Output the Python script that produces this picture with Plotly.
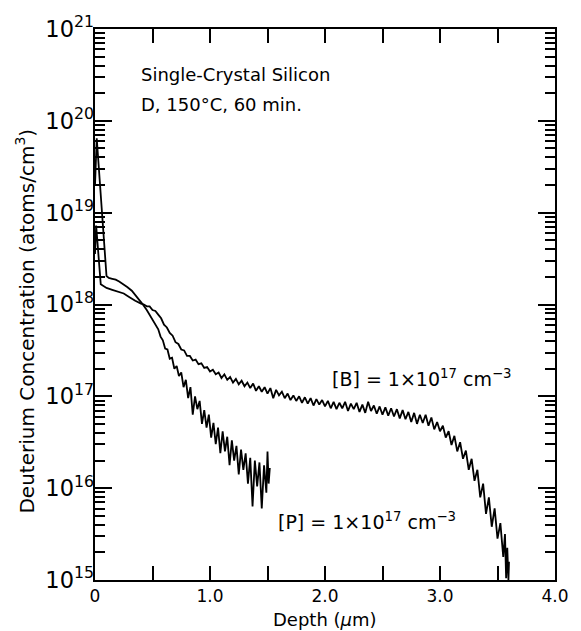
import plotly.graph_objects as go

# ---- data (depth in µm, log10 of concentration) ----
b_depth = [0.00, 0.01, 0.05, 0.10, 0.15, 0.20, 0.25, 0.30, 0.35, 0.40,
           0.425, 0.450, 0.475, 0.500, 0.525, 0.550, 0.575, 0.600, 0.625, 0.650,
           0.675, 0.700, 0.725, 0.750, 0.775, 0.800, 0.825, 0.850, 0.875, 0.900,
           0.925, 0.950, 0.975, 1.000, 1.025, 1.050, 1.075, 1.100, 1.125, 1.150,
           1.175, 1.200, 1.225, 1.250, 1.275, 1.300, 1.325, 1.350, 1.375, 1.400,
           1.425, 1.450, 1.475, 1.500, 1.525, 1.550, 1.575, 1.600, 1.625, 1.650,
           1.675, 1.700, 1.725, 1.750, 1.775, 1.800, 1.825, 1.850, 1.875, 1.900,
           1.925, 1.950, 1.975, 2.000, 2.025, 2.050, 2.075, 2.100, 2.125, 2.150,
           2.175, 2.200, 2.225, 2.250, 2.275, 2.300, 2.325, 2.350, 2.375, 2.400,
           2.425, 2.450, 2.475, 2.500, 2.525, 2.550, 2.575, 2.600, 2.625, 2.650,
           2.675, 2.700, 2.725, 2.750, 2.775, 2.800, 2.825, 2.850, 2.875, 2.900,
           2.925, 2.950, 2.975, 3.000, 3.025, 3.050, 3.075, 3.100, 3.125, 3.150,
           3.175, 3.200, 3.225, 3.250, 3.275, 3.300, 3.325, 3.350, 3.375, 3.400,
           3.425, 3.450, 3.475, 3.500, 3.525, 3.550, 3.565, 3.575, 3.585, 3.595,
           3.600]
b_logc = [18.55, 18.86, 18.22, 18.18, 18.16, 18.14, 18.12, 18.08, 18.04, 18.01,
          18.00, 17.98, 17.98, 17.94, 17.93, 17.89, 17.85, 17.78, 17.75, 17.69,
          17.66, 17.59, 17.57, 17.51, 17.50, 17.44, 17.44, 17.39, 17.40, 17.35,
          17.36, 17.31, 17.32, 17.27, 17.29, 17.24, 17.26, 17.20, 17.24, 17.18,
          17.21, 17.15, 17.19, 17.13, 17.17, 17.11, 17.15, 17.09, 17.14, 17.06,
          17.11, 17.05, 17.10, 17.03, 17.09, 16.98, 17.07, 17.01, 17.05, 16.98,
          17.03, 16.96, 17.01, 16.95, 17.00, 16.93, 16.99, 16.92, 16.98, 16.90,
          16.97, 16.91, 16.96, 16.89, 16.95, 16.87, 16.94, 16.86, 16.93, 16.87,
          16.94, 16.84, 16.92, 16.86, 16.93, 16.83, 16.91, 16.82, 16.94, 16.84,
          16.90, 16.81, 16.89, 16.80, 16.88, 16.79, 16.87, 16.78, 16.86, 16.76,
          16.85, 16.75, 16.83, 16.72, 16.82, 16.70, 16.80, 16.71, 16.80, 16.68,
          16.77, 16.64, 16.72, 16.62, 16.68, 16.55, 16.62, 16.47, 16.57, 16.40,
          16.50, 16.32, 16.41, 16.20, 16.32, 16.08, 16.20, 15.90, 16.05, 15.72,
          15.90, 15.58, 15.78, 15.45, 15.62, 15.25, 15.50, 15.02, 15.35, 15.00,
          15.20]

p_depth = [0.00, 0.015, 0.10, 0.12, 0.15, 0.18, 0.21, 0.25, 0.28, 0.32,
           0.36, 0.41, 0.45, 0.50, 0.53,
           0.55, 0.57, 0.59, 0.61, 0.63, 0.65, 0.67, 0.69, 0.71, 0.73,
           0.75, 0.77, 0.79, 0.81, 0.83, 0.85, 0.87, 0.89, 0.91, 0.93,
           0.95, 0.97, 0.99, 1.01, 1.03, 1.05, 1.07, 1.09, 1.11, 1.13,
           1.15, 1.17, 1.19, 1.21, 1.23, 1.25, 1.27, 1.29, 1.31, 1.33,
           1.35, 1.37, 1.39, 1.41, 1.43, 1.45, 1.47, 1.49, 1.50, 1.51,
           1.52]
p_logc = [19.30, 19.81, 18.31, 18.29, 18.28, 18.27, 18.25, 18.22, 18.19, 18.15,
          18.09, 18.01, 17.94, 17.83, 17.77,
          17.73, 17.65, 17.61, 17.52, 17.51, 17.41, 17.42, 17.30, 17.33, 17.22,
          17.26, 17.10, 17.18, 16.98, 17.10, 16.80, 17.00, 16.86, 16.95, 16.70,
          16.85, 16.66, 16.80, 16.55, 16.71, 16.48, 16.66, 16.38, 16.62, 16.40,
          16.56, 16.25, 16.52, 16.30, 16.46, 16.15, 16.42, 16.20, 16.38, 16.05,
          16.33, 15.80, 16.30, 16.02, 16.28, 15.78, 16.25, 15.95, 16.40, 16.05,
          16.22]

decades = [15, 16, 17, 18, 19, 20]
x_tick_vals = [0, 0.5, 1.0, 1.5, 2.0, 2.5, 3.0, 3.5, 4.0]
x_tick_text = ["0", " ", "1.0", " ", "2.0", " ", "3.0", " ", "4.0"]

FONT = "DejaVu Sans, Arial, sans-serif"

minor_vals = [float(m) * 10.0 ** d for d in decades for m in range(2, 10)]

fig = go.Figure()
fig.add_trace(go.Scatter(x=b_depth, y=[10.0 ** v for v in b_logc], mode="lines",
                         line=dict(color="black", width=1.8), showlegend=False))
fig.add_trace(go.Scatter(x=p_depth, y=[10.0 ** v for v in p_logc], mode="lines",
                         line=dict(color="black", width=1.8), showlegend=False))
# empty trace so the overlaid decade-tick axis is drawn
fig.add_trace(go.Scatter(x=[None], y=[None], yaxis="y2", mode="lines",
                         showlegend=False, hoverinfo="skip"))

fig.update_layout(
    width=581, height=631,
    margin=dict(l=95, r=16, t=21, b=51),
    paper_bgcolor="white", plot_bgcolor="white",
    font=dict(family=FONT, color="black", size=17),
    xaxis=dict(range=[0, 4], tickmode="array", tickvals=x_tick_vals, ticktext=x_tick_text,
               ticks="inside", ticklen=14, tickwidth=1.6, tickcolor="black",
               showline=True, linecolor="black", linewidth=2, mirror="ticks",
               showgrid=False, zeroline=False, tickfont=dict(size=17, family=FONT)),
    # main y axis carries the minor ticks (2..9 of every decade)
    yaxis=dict(type="log", range=[15, 21], tickmode="array", tickvals=minor_vals,
               showticklabels=False,
               ticks="inside", ticklen=10, tickwidth=1.6, tickcolor="black",
               showline=True, linecolor="black", linewidth=2, mirror="ticks",
               showgrid=False, zeroline=False),
    # overlaid axis carries the labelled decade ticks
    yaxis2=dict(type="log", range=[15, 21], overlaying="y", side="left", anchor="x",
                tickmode="linear", tick0=0, dtick=1,
                exponentformat="power", showexponent="all",
                ticks="inside", ticklen=17, tickwidth=1.6, tickcolor="black",
                showline=False, mirror="ticks",
                showgrid=False, zeroline=False, tickfont=dict(size=18, family=FONT)),
)

annos = [
    dict(x=0.38, y=20.51, text="Single-Crystal Silicon", size=18),
    dict(x=0.38, y=20.18, text="D, 150°C, 60 min.", size=18),
    dict(x=2.04, y=17.20, text="[B] = 1×10<sup>17</sup> cm<sup>−3</sup>", size=19),
    dict(x=1.57, y=15.64, text="[P] = 1×10<sup>17</sup> cm<sup>−3</sup>", size=19),
]
for a in annos:
    fig.add_annotation(x=a["x"], y=a["y"], xref="x", yref="y", text=a["text"],
                       showarrow=False, xanchor="left", yanchor="middle",
                       font=dict(size=a["size"], family=FONT, color="black"))

fig.add_annotation(x=(24 - 95) / 470, y=0.47, xref="paper", yref="paper", textangle=-90,
                   text="Deuterium Concentration (atoms/cm<sup>3</sup>)", showarrow=False,
                   xanchor="center", yanchor="middle", font=dict(size=20, family=FONT))
fig.add_annotation(x=0.5, y=(580 - 620) / 559, xref="paper", yref="paper",
                   text="Depth (<i>µ</i>m)", showarrow=False,
                   xanchor="center", yanchor="middle", font=dict(size=18, family=FONT))

fig.write_html("out.html")
